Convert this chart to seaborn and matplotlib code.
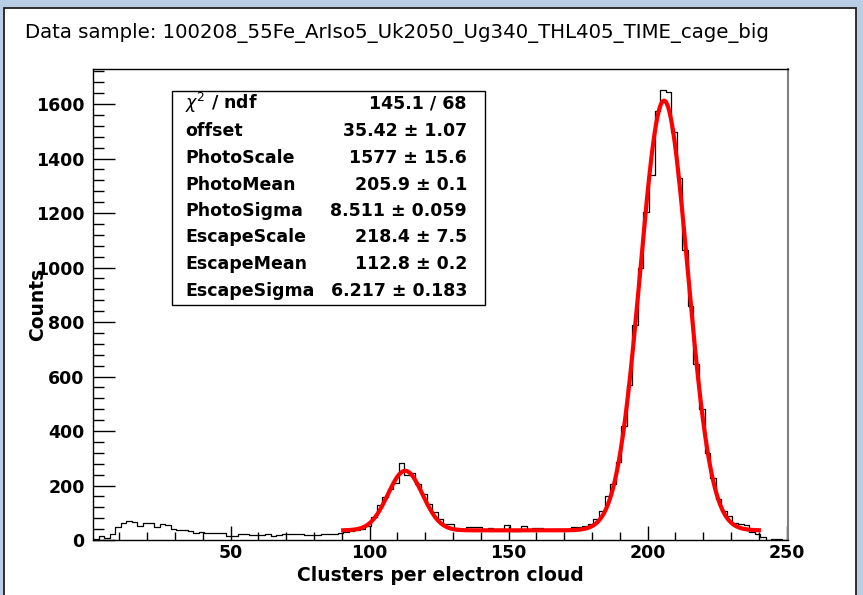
import numpy as np
import pandas as pd
import matplotlib.pyplot as plt
import matplotlib.patches as mpatches
import seaborn as sns

# histogram: 125 bins of width 2 from 0.5 to 250.5
bin_width = 2
bin_range = (0.5, 250.5)
bin_centers = np.arange(1.5, 250, 2)
counts = [
    3, 16, 6, 22, 46, 61, 71, 65, 53, 61,
    64, 49, 60, 55, 41, 38, 35, 32, 24, 28,
    26, 26, 26, 27, 13, 13, 22, 21, 19, 19,
    20, 21, 16, 20, 22, 22, 22, 22, 20, 20,
    20, 21, 23, 23, 27, 30, 34, 38, 40, 52,
    83, 128, 156, 186, 210, 281, 240, 245, 205, 168,
    132, 102, 78, 59, 60, 37, 36, 46, 46, 46,
    40, 43, 42, 40, 55, 33, 33, 52, 38, 44,
    45, 37, 37, 40, 35, 35, 46, 47, 52, 60,
    77, 105, 160, 205, 285, 420, 570, 790, 1000, 1205,
    1340, 1575, 1652, 1645, 1498, 1330, 1065, 860, 645, 480,
    320, 228, 150, 105, 88, 62, 60, 55, 30, 22,
    10, 0, 4, 2, 0,
]

# fit result shown in the stats box
fit_range = (90.5, 240.0)
offset = 35.42
photo_scale, photo_mean, photo_sigma = 1577, 205.9, 8.511
escape_scale, escape_mean, escape_sigma = 218.4, 112.8, 6.217

stat_names = [r"$\chi^{2}$ / ndf", "offset", "PhotoScale", "PhotoMean", "PhotoSigma",
              "EscapeScale", "EscapeMean", "EscapeSigma"]
stat_values = ["145.1 / 68", "35.42 ± 1.07", "1577 ± 15.6", "205.9 ± 0.1",
               "8.511 ± 0.059", "218.4 ± 7.5", "112.8 ± 0.2", "6.217 ± 0.183"]

x_ticks = [50, 100, 150, 200, 250]
y_ticks = [0, 200, 400, 600, 800, 1000, 1200, 1400, 1600]

title = "Data sample: 100208_55Fe_ArIso5_Uk2050_Ug340_THL405_TIME_cage_big"

hist_df = pd.DataFrame({"clusters": bin_centers, "counts": counts})

# fit curve (double gaussian + constant)
fit_x = np.linspace(fit_range[0], fit_range[1], 500)
fit_y = (offset
         + photo_scale * np.exp(-0.5 * ((fit_x - photo_mean) / photo_sigma) ** 2)
         + escape_scale * np.exp(-0.5 * ((fit_x - escape_mean) / escape_sigma) ** 2))

W, H = 863, 595
fig = plt.figure(figsize=(W / 100, H / 100), dpi=100, facecolor="#b9cde5")
fig.patches.append(mpatches.Rectangle((4 / W, -0.02), 852 / W, 1.02 - 8 / H,
                                      transform=fig.transFigure, facecolor="white",
                                      edgecolor="#202020", lw=1.3, zorder=-10))

ax = fig.add_axes([93 / W, 55 / H, 695 / W, 471.4 / H])
ax.set_facecolor("white")

sns.histplot(data=hist_df, x="clusters", weights="counts", binwidth=bin_width,
             binrange=bin_range, element="step", fill=False, color="black",
             linewidth=0.9, ax=ax)
sns.lineplot(x=fit_x, y=fit_y, color="red", linewidth=3, ax=ax)

ax.set_xlim(0.5, 250.5)
ax.set_ylim(0, 1730)

ax.set_xticks(x_ticks)
ax.set_xticklabels([str(t) for t in x_ticks], fontweight="bold", fontsize=12.5)
ax.set_xticks(np.arange(10, 251, 10), minor=True)
ax.set_yticks(y_ticks)
ax.set_yticklabels([str(t) for t in y_ticks], fontweight="bold", fontsize=12.5)
ax.set_yticks(np.arange(0, 1730, 40), minor=True)

ax.tick_params(axis="x", which="major", direction="in", length=10, width=1, pad=3, top=False)
ax.tick_params(axis="x", which="minor", direction="in", length=5.5, width=1, top=False)
ax.tick_params(axis="y", which="major", direction="in", length=16, width=1, pad=6, right=False)
ax.tick_params(axis="y", which="minor", direction="in", length=8, width=1, right=False)

for side in ["left", "bottom", "top"]:
    ax.spines[side].set_color("black")
    ax.spines[side].set_linewidth(1)
ax.spines["right"].set_color("#7f7f7f")
ax.spines["right"].set_linewidth(1.5)

ax.set_xlabel("Clusters per electron cloud", fontsize=13.5, fontweight="bold")
ax.xaxis.set_label_coords(0.5, -0.055)
ax.set_ylabel("Counts", fontsize=13.5, fontweight="bold")
ax.yaxis.set_label_coords(-0.066, 0.5)

fig.text(25 / W, 1 - 33 / H, title, fontsize=14.2, ha="left", va="center")

# stats box
box = mpatches.Rectangle((0.1137, 0.4985), 0.4503, 0.454, transform=ax.transAxes,
                         facecolor="white", edgecolor="black", lw=1, zorder=5)
ax.add_patch(box)
row_px = [103, 131, 158, 185, 211, 237, 264, 291]
for name, val, py in zip(stat_names, stat_values, row_px):
    yy = (540 - py) / 471.4
    ax.text(0.1324, yy, name, transform=ax.transAxes, fontsize=12.5, fontweight="bold",
            ha="left", va="center", zorder=6)
    ax.text(0.538, yy, val, transform=ax.transAxes, fontsize=12.5, fontweight="bold",
            ha="right", va="center", zorder=6)

fig.savefig("out.png", dpi=100, facecolor=fig.get_facecolor())
